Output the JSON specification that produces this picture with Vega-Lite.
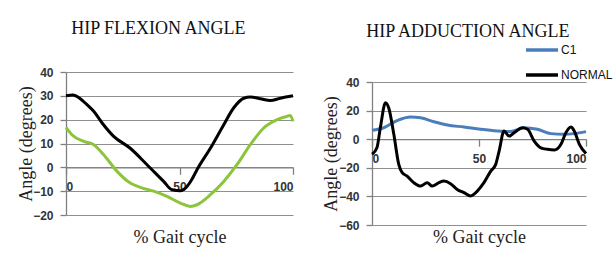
{
  "$schema": "https://vega.github.io/schema/vega-lite/v6.json",
  "background": "white",
  "padding": {"left": 17, "top": 20, "right": 0, "bottom": 0},
  "spacing": 23,
  "config": {
    "view": {"stroke": null},
    "title": {"font": "Liberation Serif", "fontSize": 18, "fontWeight": "normal", "color": "#111", "frame": "bounds"},
    "axis": {"titleFont": "Liberation Serif", "titleFontSize": 18, "titleFontWeight": "normal", "titleColor": "#222", "labelFont": "Liberation Sans", "labelFontSize": 12, "labelFontWeight": "bold", "labelColor": "#333", "labelOverlap": false},
    "legend": {"padding": 0}
  },
  "datasets": {
    "flex": [
      {"pct": 0, "angle": 30, "series": "NORMAL"},
      {"pct": 3, "angle": 30.3, "series": "NORMAL"},
      {"pct": 6, "angle": 29, "series": "NORMAL"},
      {"pct": 9, "angle": 26.5, "series": "NORMAL"},
      {"pct": 12.2, "angle": 23.5, "series": "NORMAL"},
      {"pct": 16, "angle": 18.5, "series": "NORMAL"},
      {"pct": 21, "angle": 13, "series": "NORMAL"},
      {"pct": 28.3, "angle": 8, "series": "NORMAL"},
      {"pct": 35.7, "angle": 1.1, "series": "NORMAL"},
      {"pct": 43, "angle": -5.9, "series": "NORMAL"},
      {"pct": 46.7, "angle": -9.4, "series": "NORMAL"},
      {"pct": 50.4, "angle": -9.8, "series": "NORMAL"},
      {"pct": 53.3, "angle": -8, "series": "NORMAL"},
      {"pct": 55.5, "angle": -5, "series": "NORMAL"},
      {"pct": 57.7, "angle": -1, "series": "NORMAL"},
      {"pct": 63.6, "angle": 8, "series": "NORMAL"},
      {"pct": 69.5, "angle": 17.9, "series": "NORMAL"},
      {"pct": 73.9, "angle": 25, "series": "NORMAL"},
      {"pct": 78.3, "angle": 29, "series": "NORMAL"},
      {"pct": 81.2, "angle": 29.5, "series": "NORMAL"},
      {"pct": 85.6, "angle": 28.8, "series": "NORMAL"},
      {"pct": 90, "angle": 28, "series": "NORMAL"},
      {"pct": 94.4, "angle": 29, "series": "NORMAL"},
      {"pct": 100, "angle": 30, "series": "NORMAL"},
      {"pct": 0, "angle": 16.8, "series": "C1"},
      {"pct": 2.6, "angle": 13.7, "series": "C1"},
      {"pct": 7.8, "angle": 10.9, "series": "C1"},
      {"pct": 12.2, "angle": 9.5, "series": "C1"},
      {"pct": 16.6, "angle": 5.3, "series": "C1"},
      {"pct": 22.5, "angle": -1.7, "series": "C1"},
      {"pct": 28.3, "angle": -6.6, "series": "C1"},
      {"pct": 32.7, "angle": -8.4, "series": "C1"},
      {"pct": 38.6, "angle": -10, "series": "C1"},
      {"pct": 44.5, "angle": -12.2, "series": "C1"},
      {"pct": 50.4, "angle": -15, "series": "C1"},
      {"pct": 54.8, "angle": -16.4, "series": "C1"},
      {"pct": 57.7, "angle": -15.7, "series": "C1"},
      {"pct": 63.6, "angle": -11.5, "series": "C1"},
      {"pct": 69.5, "angle": -5.9, "series": "C1"},
      {"pct": 75.3, "angle": 1.1, "series": "C1"},
      {"pct": 81.2, "angle": 9.5, "series": "C1"},
      {"pct": 87.1, "angle": 16.5, "series": "C1"},
      {"pct": 93, "angle": 20, "series": "C1"},
      {"pct": 97.4, "angle": 21.4, "series": "C1"},
      {"pct": 98.8, "angle": 21.8, "series": "C1"},
      {"pct": 100, "angle": 19.3, "series": "C1"}
    ],
    "add": [
      {"pct": 0, "angle": 6.2, "series": "C1"},
      {"pct": 5.5, "angle": 8, "series": "C1"},
      {"pct": 11.7, "angle": 13, "series": "C1"},
      {"pct": 18, "angle": 15.5, "series": "C1"},
      {"pct": 22.7, "angle": 15, "series": "C1"},
      {"pct": 28.9, "angle": 12.2, "series": "C1"},
      {"pct": 35.2, "angle": 9.9, "series": "C1"},
      {"pct": 43, "angle": 8.5, "series": "C1"},
      {"pct": 50.8, "angle": 6.9, "series": "C1"},
      {"pct": 58.6, "angle": 5.7, "series": "C1"},
      {"pct": 64.8, "angle": 5.3, "series": "C1"},
      {"pct": 71.1, "angle": 8, "series": "C1"},
      {"pct": 77.3, "angle": 6.9, "series": "C1"},
      {"pct": 83.6, "angle": 3.9, "series": "C1"},
      {"pct": 89.8, "angle": 3.4, "series": "C1"},
      {"pct": 94.5, "angle": 3.9, "series": "C1"},
      {"pct": 100, "angle": 5.3, "series": "C1"},
      {"pct": 0, "angle": -10.6, "series": "NORMAL"},
      {"pct": 2.3, "angle": -6, "series": "NORMAL"},
      {"pct": 3.9, "angle": 8, "series": "NORMAL"},
      {"pct": 6.3, "angle": 25.5, "series": "NORMAL"},
      {"pct": 7.8, "angle": 22, "series": "NORMAL"},
      {"pct": 10.2, "angle": 3.4, "series": "NORMAL"},
      {"pct": 12.5, "angle": -17.6, "series": "NORMAL"},
      {"pct": 14.1, "angle": -23.4, "series": "NORMAL"},
      {"pct": 16.4, "angle": -25.8, "series": "NORMAL"},
      {"pct": 19.5, "angle": -30.4, "series": "NORMAL"},
      {"pct": 22.7, "angle": -32.8, "series": "NORMAL"},
      {"pct": 25.8, "angle": -30.4, "series": "NORMAL"},
      {"pct": 28.1, "angle": -32.8, "series": "NORMAL"},
      {"pct": 31.3, "angle": -30.4, "series": "NORMAL"},
      {"pct": 33.6, "angle": -29.3, "series": "NORMAL"},
      {"pct": 36.7, "angle": -31.1, "series": "NORMAL"},
      {"pct": 39.8, "angle": -35.1, "series": "NORMAL"},
      {"pct": 43, "angle": -37.4, "series": "NORMAL"},
      {"pct": 46.1, "angle": -39.7, "series": "NORMAL"},
      {"pct": 49.2, "angle": -36.3, "series": "NORMAL"},
      {"pct": 52.3, "angle": -30.4, "series": "NORMAL"},
      {"pct": 55.5, "angle": -22.3, "series": "NORMAL"},
      {"pct": 57.8, "angle": -17.6, "series": "NORMAL"},
      {"pct": 59.4, "angle": -8.3, "series": "NORMAL"},
      {"pct": 61.7, "angle": 5.7, "series": "NORMAL"},
      {"pct": 64.1, "angle": 2.2, "series": "NORMAL"},
      {"pct": 66.4, "angle": 4.5, "series": "NORMAL"},
      {"pct": 70.3, "angle": 8, "series": "NORMAL"},
      {"pct": 72.7, "angle": 6.9, "series": "NORMAL"},
      {"pct": 75.8, "angle": -1.3, "series": "NORMAL"},
      {"pct": 78.9, "angle": -6, "series": "NORMAL"},
      {"pct": 82, "angle": -7.1, "series": "NORMAL"},
      {"pct": 85.2, "angle": -7.6, "series": "NORMAL"},
      {"pct": 88.3, "angle": -3.6, "series": "NORMAL"},
      {"pct": 90.6, "angle": 4.5, "series": "NORMAL"},
      {"pct": 93, "angle": 8.5, "series": "NORMAL"},
      {"pct": 94.5, "angle": 5.7, "series": "NORMAL"},
      {"pct": 96.9, "angle": -3.6, "series": "NORMAL"},
      {"pct": 100, "angle": -10, "series": "NORMAL"}
    ]
  },
  "resolve": {"scale": {"x": "independent", "y": "independent", "color": "independent"}},
  "hconcat": [
    {
      "width": 227,
      "height": 143,
      "title": {"text": "HIP FLEXION ANGLE", "offset": 28, "frame": "bounds"},
      "data": {"name": "flex"},
      "mark": {"type": "line", "strokeWidth": 3, "interpolate": "monotone"},
      "encoding": {
        "x": {"field": "pct", "type": "quantitative", "scale": {"domain": [0, 100]}, "axis": {"title": "% Gait cycle", "values": [0, 50, 100], "grid": false, "domain": true, "ticks": true, "domainColor": "#808080", "domainWidth": 1.3, "domainOpacity": 1, "tickColor": "#808080", "tickWidth": 1.3, "tickOpacity": 1, "offset": -47.67, "tickSize": 7, "labelPadding": 7, "titleY": 70, "titleBaseline": "middle"}},
        "y": {"field": "angle", "type": "quantitative", "scale": {"domain": [-20, 40]}, "axis": {"title": "Angle (degrees)", "values": [-20, -10, 0, 10, 20, 30, 40], "grid": true, "gridColor": "#8f8f8f", "gridWidth": 1.2, "gridOpacity": 1, "domain": true, "ticks": true, "domainColor": "#808080", "domainWidth": 1.3, "domainOpacity": 1, "tickColor": "#808080", "tickWidth": 1.3, "tickOpacity": 1, "tickSize": 6, "labelPadding": 7, "titlePadding": -3}},
        "color": {"field": "series", "type": "nominal", "scale": {"domain": ["C1", "NORMAL"], "range": ["#8cc43c", "#000000"]}, "legend": null}
      }
    },
    {
      "width": 214,
      "height": 153,
      "title": {"text": "HIP ADDUCTION ANGLE", "offset": -9, "frame": "bounds"},
      "data": {"name": "add"},
      "mark": {"type": "line", "strokeWidth": 3, "interpolate": "monotone"},
      "encoding": {
        "x": {"field": "pct", "type": "quantitative", "scale": {"domain": [0, 100]}, "axis": {"title": "% Gait cycle", "values": [0, 50, 100], "grid": false, "domain": true, "ticks": true, "domainColor": "#808080", "domainWidth": 1.3, "domainOpacity": 1, "tickColor": "#808080", "tickWidth": 1.3, "tickOpacity": 1, "offset": -85.8, "tickSize": 7, "labelPadding": 7, "titleY": 98, "titleBaseline": "middle"}},
        "y": {"field": "angle", "type": "quantitative", "scale": {"domain": [-60, 40], "range": [153, 10]}, "axis": {"title": "Angle (degrees)", "values": [-60, -40, -20, 0, 20, 40], "grid": true, "gridColor": "#8f8f8f", "gridWidth": 1.2, "gridOpacity": 1, "domain": true, "ticks": true, "domainColor": "#808080", "domainWidth": 1.3, "domainOpacity": 1, "tickColor": "#808080", "tickWidth": 1.3, "tickOpacity": 1, "tickSize": 6, "labelPadding": 7, "titlePadding": -2}},
        "color": {"field": "series", "type": "nominal", "scale": {"domain": ["C1", "NORMAL"], "range": ["#4a7ebb", "#000000"]}, "legend": {"title": null, "orient": "none", "legendX": 152, "legendY": -40, "symbolType": "stroke", "symbolStrokeWidth": 3.5, "symbolSize": 1024, "labelFont": "Liberation Sans", "labelFontSize": 12, "labelFontWeight": "normal", "labelColor": "#111", "rowPadding": -8, "labelOffset": 1}}
      }
    }
  ]
}
